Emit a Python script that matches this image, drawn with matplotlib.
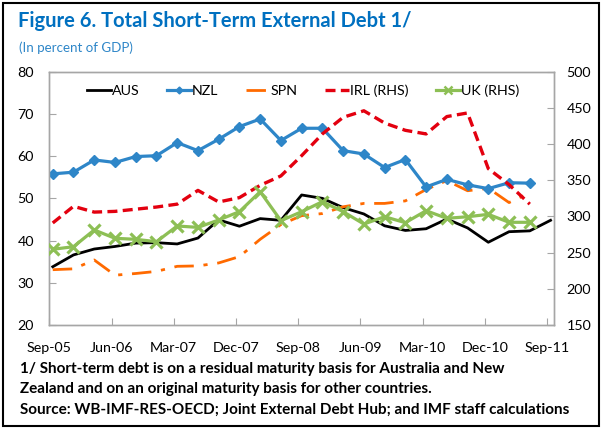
import matplotlib
matplotlib.use("Agg")
import matplotlib.pyplot as plt
import numpy as np
from matplotlib.patches import Rectangle
from matplotlib.lines import Line2D

plt.rcParams['font.family'] = ['Lato', 'DejaVu Sans']

# quarterly observations, Sep-05 .. Sep-11
quarters = ["Sep-05", "Dec-05", "Mar-06", "Jun-06", "Sep-06", "Dec-06", "Mar-07", "Jun-07",
            "Sep-07", "Dec-07", "Mar-08", "Jun-08", "Sep-08", "Dec-08", "Mar-09", "Jun-09",
            "Sep-09", "Dec-09", "Mar-10", "Jun-10", "Sep-10", "Dec-10", "Mar-11", "Jun-11",
            "Sep-11"]
tick_labels = ["Sep-05", "Jun-06", "Mar-07", "Dec-07", "Sep-08", "Jun-09", "Mar-10", "Dec-10", "Sep-11"]

# left axis (percent of GDP)
aus = [33.8, 36.6, 38.0, 38.6, 39.4, 39.5, 39.2, 40.6, 44.9, 43.4, 45.2, 44.8, 50.8,
       50.0, 47.8, 46.3, 43.5, 42.4, 42.8, 45.1, 43.0, 39.6, 42.1, 42.3, 44.8]
nzl = [55.8, 56.2, 59.1, 58.5, 59.9, 60.1, 63.2, 61.3, 64.0, 67.0, 68.8, 63.7, 66.6,
       66.6, 61.3, 60.5, 57.3, 59.2, 52.7, 54.5, 53.2, 52.3, 53.7, 53.6]
spn = [33.1, 33.3, 35.4, 31.8, 32.2, 32.7, 33.9, 34.0, 34.7, 36.2, 40.3, 43.8, 45.9,
       46.4, 48.0, 48.8, 48.8, 49.4, 52.1, 54.2, 51.8, 52.4, 49.0, 51.3]
# right axis (RHS)
irl = [291, 314, 306, 307, 310, 313, 317, 336, 320, 326, 343, 356, 384,
       414, 437, 446, 429, 419, 414, 438, 443, 366, 344, 317]
uk = [254.6, 258.2, 281.3, 269.8, 268.4, 265.1, 286.8, 284.9, 295.1, 306.6, 334.2, 294.1, 306.6,
      320.4, 306.6, 289.5, 299.6, 291.4, 307.9, 297.4, 299.6, 302.9, 291.9, 291.9]

BLUE = '#2E86C8'
ORANGE = '#FF6A00'
RED = '#E3000F'
GREEN = '#8DBF55'
AXIS_GREY = '#A6A6A6'

# date axis in months, points sit mid-month
x = np.arange(len(quarters)) * 3 + 0.5

fig = plt.figure(figsize=(6.03, 4.30), dpi=100)
ax = fig.add_axes([49.3 / 603, 1 - 325 / 430, (554 - 49.3) / 603, (325 - 71.7) / 430])
ax2 = ax.twinx()

ax.plot(x, aus, color='black', lw=2, zorder=3)
ax.plot(x[:len(nzl)], nzl, color=BLUE, lw=2.3, marker='D', ms=5, zorder=4)
ax.plot(x[:len(spn)], spn, color=ORANGE, lw=2, dashes=(7, 3.5, 1.5, 3.5), zorder=3)
ax2.plot(x[:len(irl)], irl, color=RED, lw=2.4, dashes=(3, 1.6), zorder=3)
ax2.plot(x[:len(uk)], uk, color=GREEN, lw=2.3, marker='x', ms=8, mew=2.3, zorder=3)

ax.set_xlim(0, 73)
ax.set_ylim(20, 80)
ax2.set_ylim(150, 500)
ax.set_yticks(np.arange(20, 81, 10))
ax2.set_yticks(np.arange(150, 501, 50))
ax.set_xticks(np.arange(0, 73, 9))
ax.set_xticklabels(tick_labels)

for a in (ax, ax2):
    for s in a.spines.values():
        s.set_color(AXIS_GREY)
        s.set_linewidth(1)
ax.tick_params(axis='both', direction='in', length=5, color=AXIS_GREY, labelsize=10.3)
ax.tick_params(axis='y', pad=11)
ax.tick_params(axis='x', pad=12)
ax2.tick_params(axis='y', direction='in', length=5, color=AXIS_GREY, labelsize=10.3, pad=9)

handles = [
    Line2D([], [], color='black', lw=2),
    Line2D([], [], color=BLUE, lw=2.3, marker='D', ms=3.5),
    Line2D([], [], color=ORANGE, lw=2, dashes=(7, 3.5, 1.5, 3.5)),
    Line2D([], [], color=RED, lw=2.4, dashes=(3, 1.6)),
    Line2D([], [], color=GREEN, lw=2.3, marker='x', ms=6, mew=1.8),
]
labels = ["AUS", "NZL", "SPN", "IRL (RHS)", "UK (RHS)"]
fig.legend(handles, labels, loc='center', bbox_to_anchor=(303 / 603, 1 - 91 / 430), ncol=5,
           frameon=False, fontsize=10.3, handlelength=1.7, handletextpad=0.05, columnspacing=1.9)

fig.text(18 / 603, 1 - 21 / 430, "Figure 6. Total Short-Term External Debt 1/", color='#0070C0',
         fontsize=14.5, fontweight='bold', va='center', ha='left')
fig.text(19 / 603, 1 - 47.5 / 430, "(In percent of GDP)", color='#2E86C8', fontsize=9.6,
         va='center', ha='left')

notes = ["1/ Short-term debt is on a residual maturity basis for Australia and New",
         "Zealand and on an original maturity basis for other countries.",
         "Source: WB-IMF-RES-OECD; Joint External Debt Hub; and IMF staff calculations"]
for i, line in enumerate(notes):
    fig.text(20 / 603, 1 - (369 + 20.5 * i) / 430, line, fontsize=11, fontweight='bold',
             va='center', ha='left')

fig.patches.append(Rectangle((2.5 / 603, 1 - 426 / 430), 596 / 603, 423.5 / 430,
                             transform=fig.transFigure, fill=False, ec='black', lw=1.5))

fig.savefig("out.png", dpi=100)
